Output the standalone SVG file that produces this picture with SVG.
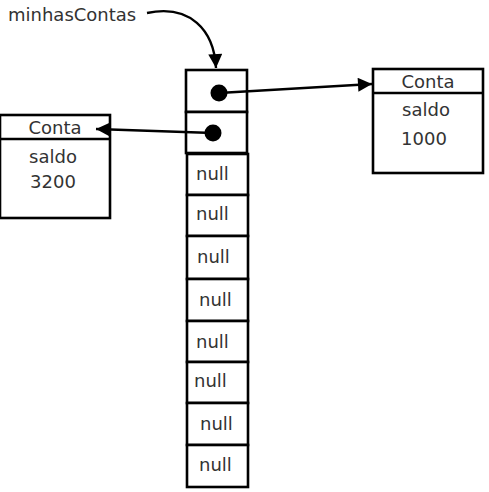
<svg xmlns="http://www.w3.org/2000/svg" width="489" height="492" viewBox="0 0 489 492">
<style>
  .box{fill:#fff;stroke:#000;stroke-width:2.6}
  .t{font-family:"DejaVu Sans",sans-serif;font-size:18px;fill:#333}
  .ln{stroke:#000;stroke-width:2.4;fill:none}
</style>
<defs>
  <marker id="ah2" viewBox="0 0 10 10" refX="10" refY="5" markerWidth="15" markerHeight="14" markerUnits="userSpaceOnUse" orient="auto">
    <path d="M0,0 L10,5 L0,10 z" fill="#000"/>
  </marker>
</defs>
<rect width="489" height="492" fill="#fff"/>
<g id="label">
  <text class="t" x="8" y="21">minhasContas</text>
</g>
<g id="array">
  <rect class="box" x="186" y="70" width="61" height="42"/>
  <rect class="box" x="186" y="112" width="61" height="41"/>
  <circle cx="219" cy="93" r="8.5" fill="#000"/>
  <circle cx="213" cy="133" r="8.5" fill="#000"/>
  <rect class="box" x="187" y="154" width="61" height="41"/>
  <rect class="box" x="187" y="195" width="61" height="41"/>
  <rect class="box" x="187" y="236" width="61" height="43"/>
  <rect class="box" x="187" y="279" width="61" height="42"/>
  <rect class="box" x="187" y="321" width="61" height="41"/>
  <rect class="box" x="187" y="362" width="61" height="41"/>
  <rect class="box" x="187" y="403" width="61" height="42"/>
  <rect class="box" x="187" y="445" width="61" height="42"/>
  <text class="t" x="196" y="180">null</text>
  <text class="t" x="196" y="220">null</text>
  <text class="t" x="197" y="263">null</text>
  <text class="t" x="199" y="306">null</text>
  <text class="t" x="196" y="348">null</text>
  <text class="t" x="194" y="387">null</text>
  <text class="t" x="200" y="430">null</text>
  <text class="t" x="199" y="471">null</text>
</g>
<g id="conta1000">
  <rect class="box" x="373" y="69" width="110" height="104"/>
  <line class="ln" x1="373" y1="93" x2="483" y2="93"/>
  <text class="t" x="428" y="88" text-anchor="middle">Conta</text>
  <text class="t" x="426" y="116" text-anchor="middle">saldo</text>
  <text class="t" x="424" y="145" text-anchor="middle">1000</text>
</g>
<g id="conta3200">
  <rect class="box" x="0" y="115" width="110" height="103"/>
  <line class="ln" x1="0" y1="139" x2="110" y2="139"/>
  <text class="t" x="55" y="134" text-anchor="middle">Conta</text>
  <text class="t" x="53" y="163" text-anchor="middle">saldo</text>
  <text class="t" x="53" y="188" text-anchor="middle">3200</text>
</g>
<g id="connectors">
  <path class="ln" d="M147,13 C190,4 214,30 216,68" marker-end="url(#ah2)"/>
  <path class="ln" d="M219,93 L372,84" marker-end="url(#ah2)"/>
  <path class="ln" d="M213,133 L96,129" marker-end="url(#ah2)"/>
</g>
</svg>
